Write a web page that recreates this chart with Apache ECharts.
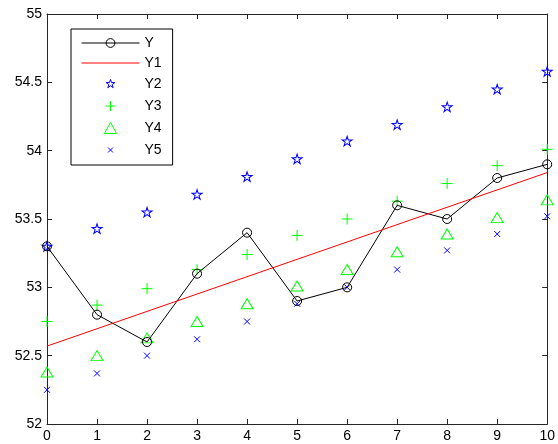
<!DOCTYPE html>
<html>
<head>
<meta charset="utf-8">
<script src="https://cdn.jsdelivr.net/npm/echarts@6/dist/echarts.min.js"></script>
<style>html,body{margin:0;padding:0;background:#fff;}#c{width:558px;height:444px;}</style>
</head>
<body>
<div id="c"></div>
<script>
var xValues = [0, 1, 2, 3, 4, 5, 6, 7, 8, 9, 10];
var Y  = [53.3, 52.8, 52.6, 53.1, 53.4, 52.9, 53.0, 53.6, 53.5, 53.8, 53.9];
var Y1x = [0, 10];
var Y1 = [52.57, 53.84];
var Y2 = [53.3, 53.43, 53.55, 53.68, 53.81, 53.94, 54.07, 54.19, 54.32, 54.45, 54.58];
var Y3 = [52.75, 52.87, 52.99, 53.13, 53.24, 53.38, 53.5, 53.63, 53.76, 53.89, 54.01];
var Y4 = [52.38, 52.5, 52.63, 52.75, 52.88, 53.01, 53.13, 53.26, 53.39, 53.51, 53.64];
var Y5 = [52.25, 52.37, 52.5, 52.62, 52.75, 52.88, 53.0, 53.13, 53.27, 53.39, 53.52];
var seriesNames = ['Y', 'Y1', 'Y2', 'Y3', 'Y4', 'Y5'];
var xTicks = {min: 0, max: 10, interval: 1};
var yTicks = {min: 52, max: 55, interval: 0.5};

function pairs(xs, ys) { return xs.map(function (x, i) { return [x, ys[i]]; }); }

var STAR = 'path://M0,-10L2.245,-3.09L9.51,-3.09L3.63,1.18L5.88,8.09L0,3.82L-5.88,8.09L-3.63,1.18L-9.51,-3.09L-2.245,-3.09Z';
var PLUS = 'path://M0,5L10,5M5,0L5,10';
var CROSS = 'path://M0,0L10,10M0,10L10,0';
var TRI = 'path://M5,0L10,9L0,9Z';
// legend icons: same shapes with an invisible bounding box so their size differs inside the legend
var STAR_LG = 'path://M-12,-12M12,12M0,-10L2.245,-3.09L9.51,-3.09L3.63,1.18L5.88,8.09L0,3.82L-5.88,8.09L-3.63,1.18L-9.51,-3.09L-2.245,-3.09Z';
var PLUS_LG = 'path://M-5.5,-5.5M5.5,5.5M-5,0L5,0M0,-5L0,5';
var CROSS_LG = 'path://M-5.5,-5.5M5.5,5.5M-2.5,-2.5L2.5,2.5M-2.5,2.5L2.5,-2.5';
var TRI_LG = 'path://M5,0L10,9L0,9Z';

var axisColor = '#262626';
var font = 'Arial, "Liberation Sans", Helvetica, sans-serif';

function xAx(pos, show) {
  return {
    type: 'value', position: pos, min: xTicks.min, max: xTicks.max, interval: xTicks.interval,
    axisLine: {show: true, onZero: false, lineStyle: {color: axisColor, width: 1}},
    axisTick: {show: true, inside: true, length: 5, lineStyle: {color: axisColor}},
    axisLabel: {show: show, color: '#000', fontSize: 14, margin: 5, fontFamily: font},
    splitLine: {show: false}
  };
}
function yAx(pos, show) {
  return {
    type: 'value', position: pos, min: yTicks.min, max: yTicks.max, interval: yTicks.interval,
    axisLine: {show: true, onZero: false, lineStyle: {color: axisColor, width: 1}},
    axisTick: {show: true, inside: true, length: 5, lineStyle: {color: axisColor}},
    axisLabel: {show: show, color: '#000', fontSize: 14, margin: 5, fontFamily: font},
    splitLine: {show: false}
  };
}

var chart = echarts.init(document.getElementById('c'), null, {renderer: 'canvas'});
chart.setOption({
  animation: false,
  backgroundColor: '#fff',
  grid: {left: 47, right: 2, top: 14, bottom: 20, containLabel: false},
  xAxis: [xAx('bottom', true), xAx('top', false)],
  yAxis: [yAx('left', true), yAx('right', false)],
  legend: {
    orient: 'vertical', left: 71, top: 29,
    padding: [7, 11, 7, 10], itemGap: 6, itemWidth: 58, itemHeight: 11,
    borderColor: '#000', borderWidth: 1, backgroundColor: '#fff',
    textStyle: {color: '#000', fontSize: 14, fontFamily: font},
    itemStyle: {borderWidth: 1},
    lineStyle: {width: 1},
    selectedMode: false,
    data: [
      {name: seriesNames[0]},
      {name: seriesNames[1], itemStyle: {opacity: 0}},
      {name: seriesNames[2], icon: STAR_LG},
      {name: seriesNames[3], icon: PLUS_LG},
      {name: seriesNames[4], icon: TRI_LG},
      {name: seriesNames[5], icon: CROSS_LG}
    ]
  },
  series: [
    {name: seriesNames[0], type: 'line', data: pairs(xValues, Y), symbol: 'circle', symbolSize: 9,
     itemStyle: {color: 'none', borderColor: '#000', borderWidth: 1},
     lineStyle: {color: '#000', width: 1}},
    {name: seriesNames[1], type: 'line', data: pairs(Y1x, Y1), symbol: 'none',
     itemStyle: {color: '#ff0000'},
     lineStyle: {color: '#ff0000', width: 1}},
    {name: seriesNames[2], type: 'scatter', data: pairs(xValues, Y2), symbol: STAR, symbolSize: [10, 9.5],
     itemStyle: {color: 'none', borderColor: '#0000ff', borderWidth: 1, opacity: 1}},
    {name: seriesNames[3], type: 'scatter', data: pairs(xValues, Y3), symbol: PLUS, symbolSize: 11,
     itemStyle: {color: 'none', borderColor: '#00ff00', borderWidth: 1, opacity: 1}},
    {name: seriesNames[4], type: 'scatter', data: pairs(xValues, Y4), symbol: TRI, symbolSize: [12, 10],
     itemStyle: {color: 'none', borderColor: '#00ff00', borderWidth: 1, opacity: 1}},
    {name: seriesNames[5], type: 'scatter', data: pairs(xValues, Y5), symbol: CROSS, symbolSize: 6,
     itemStyle: {color: 'none', borderColor: '#0000ff', borderWidth: 1, opacity: 1}}
  ]
});
</script>
</body>
</html>
